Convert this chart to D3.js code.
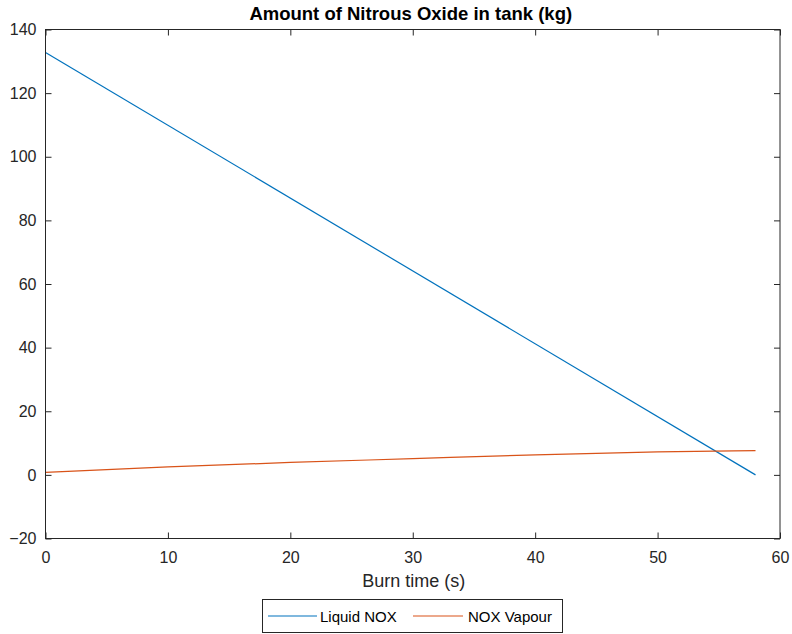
<!DOCTYPE html>
<html><head><meta charset="utf-8">
<script src="https://cdn.jsdelivr.net/npm/d3@7"></script>
<style>body{margin:0;background:#fff;} text{font-family:"Liberation Sans",Arial,sans-serif;}</style>
</head><body>
<svg id="c" width="792" height="634"></svg>
<script>
const timeLiquid = [0, 58];
const liquidNOX = [132.8, 0];
const timeVapour = [0, 10, 20, 30, 40, 50, 58];
const vapourNOX = [0.8, 2.5, 3.9, 5.1, 6.3, 7.2, 7.6];
const xTicks = [0, 10, 20, 30, 40, 50, 60];
const yTicks = [-20, 0, 20, 40, 60, 80, 100, 120, 140];
const seriesNames = ["Liquid NOX", "NOX Vapour"];
const colors = ["#0072BD", "#D95319"];

const svg = d3.select("#c");
const L = 45.5, R = 780, T = 29.5, B = 538.5;
const x = d3.scaleLinear().domain([0, 60]).range([L, R]);
const y = d3.scaleLinear().domain([-20, 140]).range([B, T]);
const tl = 6;

svg.append("rect").attr("width",792).attr("height",634).attr("fill","#fff");

const line = d3.line().x(d => x(d[0])).y(d => y(d[1]));
svg.append("path").datum(timeLiquid.map((t,i)=>[t, liquidNOX[i]]))
  .attr("d", line).attr("fill","none").attr("stroke", colors[0]).attr("stroke-width",1.2);
svg.append("path").datum(timeVapour.map((t,i)=>[t, vapourNOX[i]]))
  .attr("d", d3.line().curve(d3.curveMonotoneX).x(d => x(d[0])).y(d => y(d[1])))
  .attr("fill","none").attr("stroke", colors[1]).attr("stroke-width",1.2);

const ax = "#262626";
svg.append("rect").attr("x",L).attr("y",T).attr("width",R-L).attr("height",B-T)
  .attr("fill","none").attr("stroke",ax).attr("stroke-width",1);

const gx = svg.append("g").attr("transform",`translate(0,${B})`)
  .call(d3.axisBottom(x).tickValues(xTicks).tickSize(-tl).tickPadding(13).tickFormat(d3.format("d")));
const gxt = svg.append("g").attr("transform",`translate(0,${T})`)
  .call(d3.axisTop(x).tickValues(xTicks).tickSize(-tl).tickFormat(""));
const gy = svg.append("g").attr("transform",`translate(${L},0)`)
  .call(d3.axisLeft(y).tickValues(yTicks).tickSize(-tl).tickPadding(9).tickFormat(d3.format("d")));
const gyr = svg.append("g").attr("transform",`translate(${R},0)`)
  .call(d3.axisRight(y).tickValues(yTicks).tickSize(-tl).tickFormat(""));
[gx,gxt,gy,gyr].forEach(g=>{
  g.select(".domain").remove();
  g.selectAll("line").attr("stroke",ax);
  g.selectAll("text").attr("fill",ax).style("font-size","16px").style("font-family","Liberation Sans, Arial, sans-serif");
});
gx.selectAll("text").attr("dy","0.71em");

svg.append("text").attr("x",(L+R)/2 - 2).attr("y",19.5).attr("text-anchor","middle")
  .style("font-size","18.5px").style("font-weight","bold").attr("fill","#000")
  .text("Amount of Nitrous Oxide in tank (kg)");
svg.append("text").attr("x",(L+R)/2 + 1).attr("y",587).attr("text-anchor","middle")
  .style("font-size","18px").attr("fill",ax).text("Burn time (s)");

const lg = svg.append("g");
lg.append("rect").attr("x",262.5).attr("y",599.5).attr("width",300).attr("height",33)
  .attr("fill","#fff").attr("stroke",ax).attr("stroke-width",1);
const items = [{x0:268, x1:317, tx:320, name:seriesNames[0], c:colors[0]},{x0:413, x1:463, tx:468, name:seriesNames[1], c:colors[1]}];
items.forEach(it=>{
  lg.append("line").attr("x1",it.x0).attr("x2",it.x1).attr("y1",616).attr("y2",616)
    .attr("stroke",it.c).attr("stroke-width",1.2);
  lg.append("text").attr("x",it.tx).attr("y",621.5).style("font-size","15px").attr("fill","#000").text(it.name);
});
</script>
</body></html>
